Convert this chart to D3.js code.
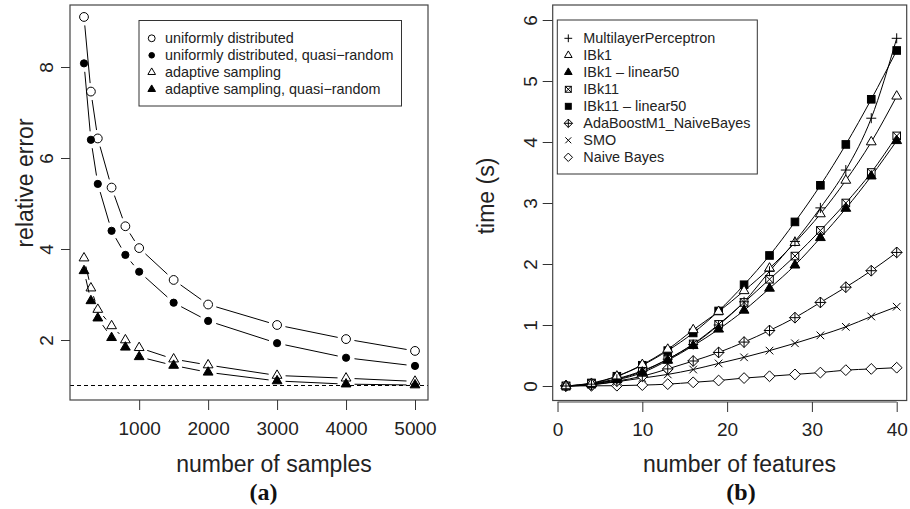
<!DOCTYPE html>
<html lang="en">
<head>
    <meta charset="UTF-8">
    <title>Sampling error and running time</title>
    <style>
        body{
            margin: 0;
            background: #fff;
            font-family: "Liberation Sans", Helvetica, Arial, sans-serif;
        }
        svg{
            display: block;
        }
        .tick line{
            stroke: #333;
        }
        .tick text{
            font-size: 19px;
            fill: #222;
        }
        .frame{
            fill: none;
            stroke: #444;
            stroke-width: 1.2;
        }
        .axis-title{
            font-size: 23px;
            fill: #222;
            text-anchor: middle;
        }
        .panel-label{
            font-family: "Liberation Serif", "Times New Roman", serif;
            font-weight: bold;
            font-size: 24px;
            text-anchor: middle;
            fill: #111;
        }
        .legend-text{
            font-size: 14.4px;
            fill: #222;
        }
    </style>
    <script src="https://d3js.org/d3.v7.min.js"></script>
</head>
<body>
    <script>
        // panel (a): relative error vs number of samples
        var samples = [200, 300, 400, 600, 800, 1000, 1500, 2000, 3000, 4000, 5000];
        var errUniform      = [9.10, 7.46, 6.43, 5.35, 4.50, 4.02, 3.32, 2.78, 2.33, 2.02, 1.76];
        var errUniformQuasi = [8.08, 6.40, 5.43, 4.40, 3.87, 3.50, 2.82, 2.42, 1.93, 1.61, 1.43];
        var errAdaptive     = [3.80, 3.14, 2.67, 2.31, 2.00, 1.83, 1.58, 1.45, 1.22, 1.16, 1.09];
        var errAdaptiveQuasi= [3.52, 2.86, 2.48, 2.05, 1.84, 1.63, 1.44, 1.29, 1.10, 1.03, 1.01];
        var errNames = ["uniformly distributed", "uniformly distributed, quasi\u2212random",
                        "adaptive sampling", "adaptive sampling, quasi\u2212random"];
        var errSymbols = ["circleOpen", "circleFilled", "triOpen", "triFilled"];
        var errTicksX = [1000, 2000, 3000, 4000, 5000];
        var errTicksY = [2, 4, 6, 8];
        var errReference = 1;

        // panel (b): time vs number of features
        var features = [1, 4, 7, 10, 13, 16, 19, 22, 25, 28, 31, 34, 37, 40];
        var tMLP      = [0, 0.03, 0.11, 0.24, 0.44, 0.68, 1.00, 1.38, 1.88, 2.37, 2.92, 3.54, 4.39, 5.70];
        var tIBk1     = [0, 0.04, 0.16, 0.35, 0.60, 0.92, 1.22, 1.56, 1.93, 2.35, 2.82, 3.37, 4.00, 4.75];
        var tIBk1Lin  = [0, 0.03, 0.10, 0.22, 0.42, 0.66, 0.93, 1.24, 1.60, 1.98, 2.43, 2.91, 3.44, 4.02];
        var tIBk11    = [0, 0.04, 0.12, 0.25, 0.44, 0.69, 1.01, 1.37, 1.75, 2.13, 2.55, 3.00, 3.50, 4.10];
        var tIBk11Lin = [0, 0.05, 0.16, 0.34, 0.58, 0.87, 1.23, 1.66, 2.14, 2.69, 3.29, 3.96, 4.70, 5.50];
        var tAda      = [0, 0.02, 0.08, 0.16, 0.28, 0.41, 0.55, 0.72, 0.91, 1.12, 1.37, 1.62, 1.89, 2.19];
        var tSMO      = [0, 0.02, 0.07, 0.13, 0.19, 0.27, 0.37, 0.47, 0.58, 0.70, 0.83, 0.97, 1.14, 1.30];
        var tNB       = [0, 0.003, 0.005, 0.015, 0.03, 0.06, 0.09, 0.13, 0.16, 0.19, 0.22, 0.26, 0.28, 0.30];
        var timeNames = ["MultilayerPerceptron", "IBk1", "IBk1 \u2013 linear50", "IBk11", "IBk11 \u2013 linear50",
                         "AdaBoostM1_NaiveBayes", "SMO", "Naive Bayes"];
        var timeSymbols = ["plus", "triOpen", "triFilled", "squareX", "squareFilled", "diamondPlus", "cross", "diamondOpen"];
        var timeTicksX = [0, 10, 20, 30, 40];
        var timeTicksY = [0, 1, 2, 3, 4, 5, 6];

        var errSeries = [errUniform, errUniformQuasi, errAdaptive, errAdaptiveQuasi];
        var timeSeries = [tMLP, tIBk1, tIBk1Lin, tIBk11, tIBk11Lin, tAda, tSMO, tNB];

        var svg = d3.select("body").append("svg")
                    .attr("width", 910)
                    .attr("height", 509);

        // draws one R-style plotting symbol
        function pch(g, kind, cx, cy, k){
            k = k || 1;
            var s = g.append("g")
                      .attr("transform", "translate(" + cx + "," + cy + ") scale(" + k + ")")
                      .attr("stroke", "#000")
                      .attr("stroke-width", 1 / k);
            var tri = "M0,-5.6L4.9,2.8L-4.9,2.8Z";
            if(kind == "circleOpen"){
                s.append("circle").attr("r", 4.4).attr("fill", "#fff");
            } else if(kind == "circleFilled"){
                s.append("circle").attr("r", 3.6).attr("fill", "#000");
            } else if(kind == "triOpen"){
                s.append("path").attr("d", tri).attr("fill", "#fff");
            } else if(kind == "triFilled"){
                s.append("path").attr("d", tri).attr("fill", "#000");
            } else if(kind == "plus"){
                s.append("path").attr("d", "M-5,0H5M0,-5V5").attr("fill", "none");
            } else if(kind == "cross"){
                s.append("path").attr("d", "M-3.8,-3.8L3.8,3.8M-3.8,3.8L3.8,-3.8").attr("fill", "none");
            } else if(kind == "squareFilled"){
                s.append("rect").attr("x", -3.8).attr("y", -3.8).attr("width", 7.6).attr("height", 7.6).attr("fill", "#000");
            } else if(kind == "squareX"){
                s.append("rect").attr("x", -3.8).attr("y", -3.8).attr("width", 7.6).attr("height", 7.6).attr("fill", "#fff");
                s.append("path").attr("d", "M-3.8,-3.8L3.8,3.8M-3.8,3.8L3.8,-3.8").attr("fill", "none");
            } else if(kind == "diamondOpen"){
                s.append("path").attr("d", "M0,-5.4L5.4,0L0,5.4L-5.4,0Z").attr("fill", "#fff");
            } else if(kind == "diamondPlus"){
                s.append("path").attr("d", "M0,-5.4L5.4,0L0,5.4L-5.4,0Z").attr("fill", "#fff");
                s.append("path").attr("d", "M-5.4,0H5.4M0,-5.4V5.4").attr("fill", "none");
            }
        }

        // ---------- panel (a) ----------
        var xL = d3.scaleLinear().domain([200, 5000]).range([84, 415]);
        var yL = d3.scaleLinear().domain([1, 9]).range([385.5, 21.5]);
        var boxA = {x1: 70, x2: 428, y1: 5, y2: 400};

        var pa = svg.append("g");
        pa.append("line")
            .attr("x1", boxA.x1).attr("x2", boxA.x2)
            .attr("y1", yL(errReference)).attr("y2", yL(errReference))
            .attr("stroke", "#000")
            .attr("stroke-dasharray", "4,3");

        // type="b": segments stop short of the points
        var gap = 8.5;
        for(var s=0; s<errSeries.length; s++){
            var vals = errSeries[s];
            for(var i=0; i<vals.length-1; i++){
                var ax = xL(samples[i]), ay = yL(vals[i]);
                var bx = xL(samples[i+1]), by = yL(vals[i+1]);
                var dx = bx - ax, dy = by - ay;
                var len = Math.sqrt(dx*dx + dy*dy);
                if(len <= 2*gap) continue;
                var ux = dx/len, uy = dy/len;
                pa.append("line")
                    .attr("x1", ax + ux*gap).attr("y1", ay + uy*gap)
                    .attr("x2", bx - ux*gap).attr("y2", by - uy*gap)
                    .attr("stroke", "#000")
                    .attr("stroke-width", 1);
            }
            for(i=0; i<vals.length; i++){
                pch(pa, errSymbols[s], xL(samples[i]), yL(vals[i]));
            }
        }

        pa.append("rect").attr("class", "frame")
            .attr("x", boxA.x1).attr("y", boxA.y1)
            .attr("width", boxA.x2 - boxA.x1).attr("height", boxA.y2 - boxA.y1);

        var axA = pa.append("g")
                    .attr("transform", "translate(0," + boxA.y2 + ")")
                    .call(d3.axisBottom(xL).tickValues(errTicksX).tickFormat(d3.format("d"))
                            .tickSize(10).tickPadding(12).tickSizeOuter(0));
        axA.select(".domain").remove();
        axA.selectAll("text").attr("font-family", null).attr("font-size", null);

        var ayA = pa.append("g")
                    .attr("transform", "translate(" + boxA.x1 + ",0)")
                    .call(d3.axisLeft(yL).tickValues(errTicksY).tickFormat(d3.format("d"))
                            .tickSize(9).tickSizeOuter(0));
        ayA.select(".domain").remove();
        ayA.selectAll("text")
            .attr("font-family", null).attr("font-size", null)
            .attr("x", null).attr("dy", null)
            .attr("text-anchor", "middle")
            .attr("transform", "translate(-17,0) rotate(-90)");

        pa.append("text").attr("class", "axis-title")
            .attr("x", 274).attr("y", 472)
            .text("number of samples");
        pa.append("text").attr("class", "axis-title")
            .attr("transform", "translate(33,183) rotate(-90)")
            .text("relative error");
        pa.append("text").attr("class", "panel-label")
            .attr("x", 263.5).attr("y", 500)
            .text("(a)");

        var legA = pa.append("g");
        legA.append("rect")
            .attr("x", 139).attr("y", 20.5).attr("width", 262.5).attr("height", 85.5)
            .attr("fill", "#fff").attr("stroke", "#333");
        for(i=0; i<errNames.length; i++){
            var ly = 38.3 + i*17;
            pch(legA, errSymbols[i], 151.7, ly, 0.78);
            legA.append("text").attr("class", "legend-text")
                .attr("x", 165).attr("y", ly + 5)
                .text(errNames[i]);
        }

        // ---------- panel (b) ----------
        var xR = d3.scaleLinear().domain([1, 40]).range([566, 896.7]);
        var yR = d3.scaleLinear().domain([0, 6]).range([386, 20]);
        var boxB = {x1: 552.7, x2: 906.7, y1: 5, y2: 400.5};

        var pb = svg.append("g");
        var line = d3.line()
                    .x(function(d, i){ return xR(features[i]); })
                    .y(function(d){ return yR(d); })
                    .curve(d3.curveMonotoneX);
        for(s=0; s<timeSeries.length; s++){
            pb.append("path")
                .attr("d", line(timeSeries[s]))
                .attr("fill", "none")
                .attr("stroke", "#000")
                .attr("stroke-width", 1);
        }
        for(s=timeSeries.length-1; s>=0; s--){
            for(i=0; i<features.length; i++){
                pch(pb, timeSymbols[s], xR(features[i]), yR(timeSeries[s][i]));
            }
        }

        pb.append("rect").attr("class", "frame")
            .attr("x", boxB.x1).attr("y", boxB.y1)
            .attr("width", boxB.x2 - boxB.x1).attr("height", boxB.y2 - boxB.y1);

        var axB = pb.append("g")
                    .attr("transform", "translate(0," + (boxB.y2 + 1.5) + ")")
                    .call(d3.axisBottom(xR).tickValues(timeTicksX).tickFormat(d3.format("d"))
                            .tickSize(10).tickPadding(11).tickSizeOuter(0));
        axB.select(".domain")
            .attr("d", "M" + xR(timeTicksX[0]) + ",0H" + xR(timeTicksX[timeTicksX.length-1]))
            .attr("stroke", "#444");
        axB.selectAll("text").attr("font-family", null).attr("font-size", null);

        var ayB = pb.append("g")
                    .attr("transform", "translate(" + boxB.x1 + ",0)")
                    .call(d3.axisLeft(yR).tickValues(timeTicksY).tickFormat(d3.format("d"))
                            .tickSize(10).tickSizeOuter(0));
        ayB.select(".domain").remove();
        ayB.selectAll("text")
            .attr("font-family", null).attr("font-size", null)
            .attr("x", null).attr("dy", null)
            .attr("text-anchor", "middle")
            .attr("transform", "translate(-16,0) rotate(-90)");

        pb.append("text").attr("class", "axis-title")
            .attr("x", 739.5).attr("y", 472)
            .text("number of features");
        pb.append("text").attr("class", "axis-title")
            .attr("transform", "translate(494,196) rotate(-90)")
            .text("time (s)");
        pb.append("text").attr("class", "panel-label")
            .attr("x", 741).attr("y", 500)
            .text("(b)");

        var legB = pb.append("g");
        legB.append("rect")
            .attr("x", 557.3).attr("y", 20).attr("width", 200).attr("height", 154)
            .attr("fill", "#fff").attr("stroke", "#333");
        for(i=0; i<timeNames.length; i++){
            var ry = 38.3 + i*17;
            pch(legB, timeSymbols[i], 568.3, ry, 0.78);
            legB.append("text").attr("class", "legend-text")
                .attr("x", 583.3).attr("y", ry + 5)
                .text(timeNames[i]);
        }
    </script>
</body>
</html>
